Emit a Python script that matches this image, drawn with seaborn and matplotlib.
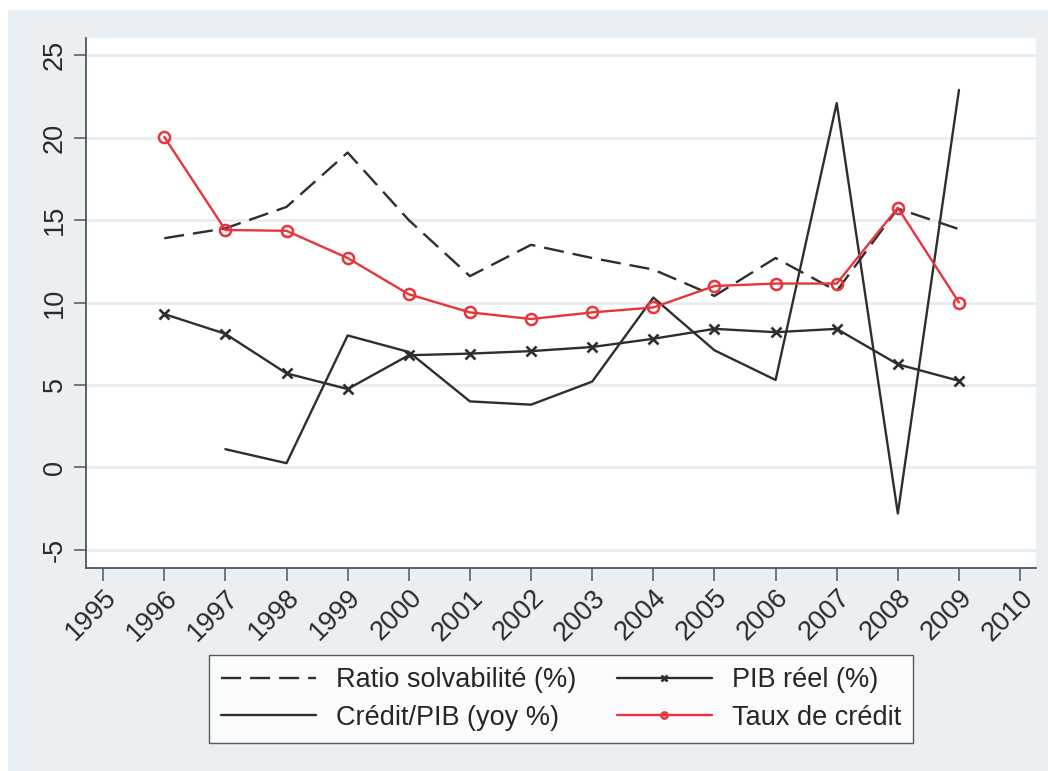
import numpy as np
import pandas as pd
import matplotlib
matplotlib.use("Agg")
import matplotlib.pyplot as plt
import seaborn as sns
from matplotlib.patches import Rectangle

# données
annees = list(range(1996, 2010))
ratio_solvabilite = [13.9, 14.5, 15.8, 19.1, 15.0, 11.6, 13.5, 12.7, 12.0, 10.4, 12.7, 10.7, 15.7, 14.45]
pib_reel = [9.3, 8.1, 5.7, 4.75, 6.8, 6.9, 7.05, 7.3, 7.8, 8.4, 8.2, 8.4, 6.25, 5.25]
credit_pib = [np.nan, 1.1, 0.25, 8.0, 7.0, 4.0, 3.8, 5.2, 10.3, 7.1, 5.3, 22.1, -2.8, 22.9]
taux_credit = [20.05, 14.4, 14.35, 12.7, 10.5, 9.4, 9.0, 9.4, 9.7, 11.0, 11.15, 11.15, 15.75, 10.0]

x_ticks = list(range(1995, 2011))
y_ticks = [-5, 0, 5, 10, 15, 20, 25]

FOND = "#e9eff2"
NOIR = "#2e2e2e"
ROUGE = "#e8343b"
TAILLE = 19.5

sns.set_theme(style="white")
plt.rcParams['font.family'] = ['Liberation Sans', 'DejaVu Sans']

fig = plt.figure(figsize=(10.48, 7.71), dpi=100)
fig.patch.set_facecolor("white")
fig.patches.append(Rectangle((8 / 1048, 0), 1, 1 - 10 / 771, transform=fig.transFigure,
                             facecolor=FOND, edgecolor="none", zorder=-10))
ax = fig.add_axes([86 / 1048, 1 - 568 / 771, 950 / 1048, 530 / 771])
ax.set_facecolor("white")

df = pd.DataFrame({"annee": annees, "ratio": ratio_solvabilite, "pib": pib_reel,
                   "credit": credit_pib, "taux": taux_credit})

sns.lineplot(data=df, x="annee", y="ratio", ax=ax, color=NOIR, lw=1.7,
             label="Ratio solvabilité (%)")
ax.lines[-1].set_dashes((8.5, 3.8))
sns.lineplot(data=df, x="annee", y="pib", ax=ax, color=NOIR, lw=1.7,
             marker="x", markersize=7, markeredgewidth=1.9, markeredgecolor=NOIR,
             label="PIB réel (%)")
sns.lineplot(data=df.dropna(), x="annee", y="credit", ax=ax, color=NOIR, lw=1.7,
             label="Crédit/PIB (yoy %)")
sns.lineplot(data=df, x="annee", y="taux", ax=ax, color=ROUGE, lw=1.7,
             marker="o", markersize=8, markerfacecolor="none", markeredgecolor=ROUGE,
             markeredgewidth=1.8, label="Taux de crédit")

ax.set_xlim(1994.72, 2010.26)
ax.set_ylim(-6.11, 26.05)
ax.set_xticks(x_ticks)
ax.set_yticks(y_ticks)
ax.set_xticklabels([str(a) for a in x_ticks], rotation=45, ha="right",
                   rotation_mode="anchor", fontsize=TAILLE, color="#2a2a2a")
ax.set_yticklabels([str(v) for v in y_ticks], rotation=90, va="center",
                   fontsize=TAILLE, color="#2a2a2a")
ax.tick_params(axis="both", direction="out", length=9, width=1.1, color="#555555",
               left=True, bottom=True)
ax.tick_params(axis="x", pad=3)
ax.tick_params(axis="y", pad=4)
ax.set_xlabel("")
ax.set_ylabel("")
ax.yaxis.grid(True, color="#e6edf0", lw=2)
ax.xaxis.grid(False)
ax.set_axisbelow(True)
for s in ["top", "right"]:
    ax.spines[s].set_visible(False)
for s in ["left", "bottom"]:
    ax.spines[s].set_color("#555555")
    ax.spines[s].set_linewidth(1.3)

handles, labels = ax.get_legend_handles_labels()
ax.get_legend().remove()
ordre = [0, 2, 1, 3]
leg = fig.legend([handles[i] for i in ordre], [labels[i] for i in ordre], ncol=2,
                 loc="upper center", bbox_to_anchor=(561 / 1048, 1 - 655 / 771),
                 fontsize=TAILLE, frameon=True, fancybox=False, edgecolor="#333333",
                 handlelength=3.5, handletextpad=0.75, columnspacing=1.5,
                 markerscale=0.55, numpoints=1, borderpad=0.45, labelspacing=0.42,
                 borderaxespad=0)
leg.get_frame().set_linewidth(1.0)
leg.get_frame().set_facecolor("white")

fig.savefig("out.png", dpi=100, facecolor=fig.get_facecolor())
